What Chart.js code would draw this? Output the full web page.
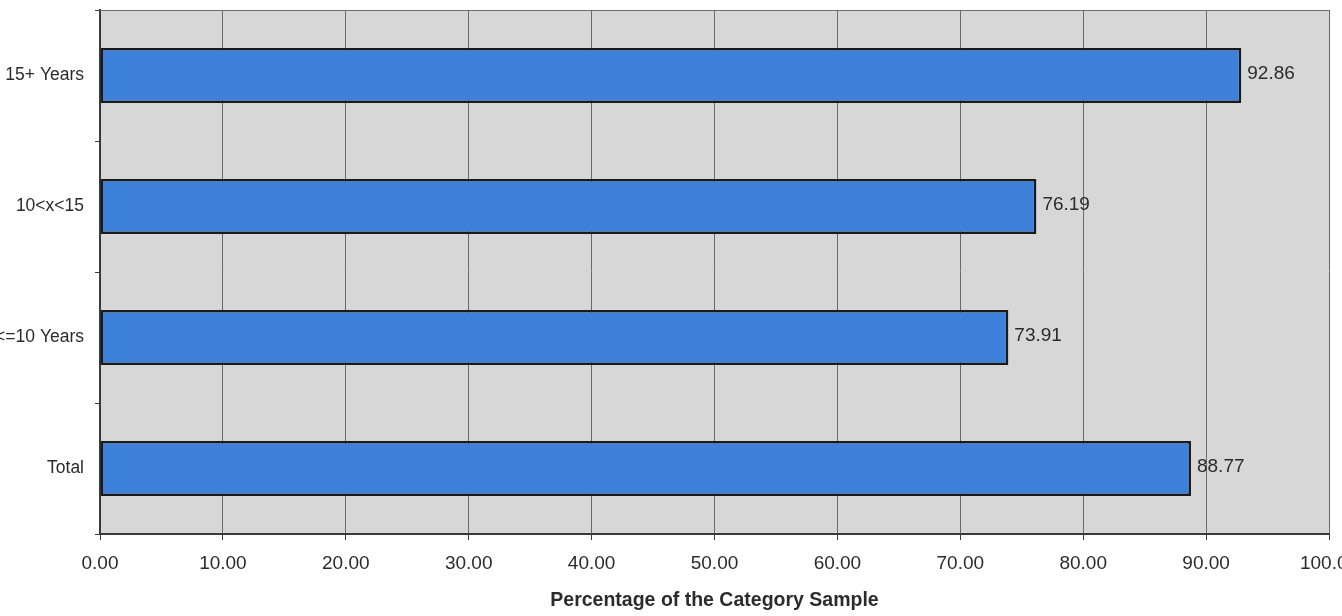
<!DOCTYPE html>
<html>
<head>
<meta charset="utf-8">
<script src="https://cdn.jsdelivr.net/npm/chart.js@4.4.1/dist/chart.umd.min.js"></script>
<style>
  html, body { margin: 0; padding: 0; background: #ffffff; }
  #wrap { position: relative; width: 1342px; height: 616px; }
</style>
</head>
<body>
<div id="wrap"><canvas id="c" width="1342" height="616"></canvas></div>
<script>
// Share of each tenure group within its sample
const categories = ['15+ Years', '10<x<15', '<=10 Years', 'Total'];
const percentages = [92.86, 76.19, 73.91, 88.77];
const xTicks = [0, 10, 20, 30, 40, 50, 60, 70, 80, 90, 100];
const axisTitle = 'Percentage of the Category Sample';

const FONT = '"Liberation Sans", Arial, sans-serif';
const TEXT = '#2b2b2b';

// Grey plot area plus a top frame line
const plotBackground = {
  id: 'plotBackground',
  beforeDraw(chart) {
    const { ctx, chartArea: a } = chart;
    ctx.save();
    ctx.fillStyle = '#d7d7d7';
    ctx.fillRect(a.left, a.top, a.right - a.left, a.bottom - a.top);
    ctx.restore();
  },
  afterDatasetsDraw(chart) {
    const { ctx, chartArea: a } = chart;
    ctx.save();
    ctx.strokeStyle = '#6a6a6a';
    ctx.lineWidth = 1;
    ctx.beginPath();
    ctx.moveTo(a.left, a.top + 0.5);
    ctx.lineTo(a.right, a.top + 0.5);
    ctx.stroke();
    ctx.restore();
  }
};

// Value printed just past the end of each bar
const valueLabels = {
  id: 'valueLabels',
  afterDatasetsDraw(chart) {
    const { ctx } = chart;
    const meta = chart.getDatasetMeta(0);
    ctx.save();
    ctx.font = '19px ' + FONT;
    ctx.fillStyle = TEXT;
    ctx.textAlign = 'left';
    ctx.textBaseline = 'middle';
    meta.data.forEach((bar, i) => {
      ctx.fillText(percentages[i].toFixed(2), bar.x + 6, bar.y - 2);
    });
    ctx.restore();
  }
};

new Chart(document.getElementById('c'), {
  type: 'bar',
  data: {
    labels: categories,
    datasets: [{
      data: percentages,
      backgroundColor: '#3d81db',
      borderColor: '#1a1a1a',
      borderWidth: 2.5,
      borderSkipped: false,
      categoryPercentage: 1.0,
      barPercentage: 0.42
    }]
  },
  options: {
    indexAxis: 'y',
    responsive: false,
    animation: false,
    layout: { padding: { top: 10, right: 13, left: 0, bottom: 0 } },
    plugins: {
      legend: { display: false },
      tooltip: { enabled: false }
    },
    scales: {
      x: {
        min: 0,
        max: 100,
        afterBuildTicks(scale) { scale.ticks = xTicks.map(v => ({ value: v })); },
        afterFit(scale) {
          scale.height = 82;
          scale.paddingLeft = 0;
          scale.paddingRight = 0;
        },
        grid: {
          color: '#6a6a6a',
          lineWidth: 1,
          drawOnChartArea: true,
          drawTicks: true,
          tickLength: 6,
          tickColor: '#3a3a3a'
        },
        border: { display: true, color: '#3a3a3a', width: 2 },
        ticks: {
          color: TEXT,
          font: { family: FONT, size: 19 },
          padding: 12,
          maxRotation: 0,
          autoSkip: false,
          callback: (v) => Number(v).toFixed(2)
        },
        title: {
          display: true,
          text: axisTitle,
          color: TEXT,
          font: { family: FONT, size: 19.5, weight: 'bold' },
          padding: { top: 4, bottom: 4 }
        }
      },
      y: {
        afterFit(scale) {
          scale.width = 100;
          scale.paddingTop = 0;
          scale.paddingBottom = 0;
        },
        grid: {
          offset: true,
          drawOnChartArea: false,
          drawTicks: true,
          tickLength: 5,
          tickColor: '#3a3a3a'
        },
        border: { display: true, color: '#3a3a3a', width: 2 },
        ticks: {
          color: TEXT,
          font: { family: FONT, size: 17.5 },
          padding: 11
        }
      }
    }
  },
  plugins: [plotBackground, valueLabels]
});
</script>
</body>
</html>
